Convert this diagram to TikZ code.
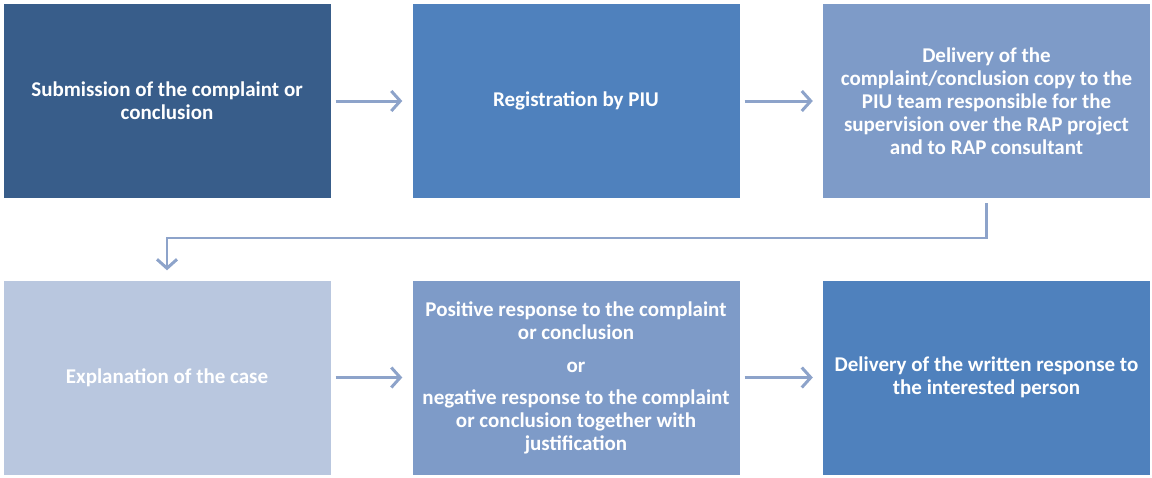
\documentclass[tikz,border=0pt]{standalone}
\usepackage{fontspec}
\setmainfont{Carlito}
\usetikzlibrary{arrows.meta}
\definecolor{boxdark}{RGB}{56,93,138}
\definecolor{boxmid}{RGB}{79,129,189}
\definecolor{boxsoft}{RGB}{126,155,200}
\definecolor{boxpale}{RGB}{185,199,223}
\definecolor{linkblue}{RGB}{141,163,202}
\tikzset{
  stage/.style={rectangle, inner sep=0pt, minimum width=327pt, minimum height=194pt,
    align=center, text=white, font=\fontsize{21}{23}\selectfont\bfseries},
  link/.style={draw=linkblue, line width=3pt,
    -{Straight Barb[length=9pt,width=20pt,line width=3pt]},
    shorten <=5pt, shorten >=10pt}
}
\begin{document}
\begin{tikzpicture}[x=1pt,y=-1pt]
\useasboundingbox (0,0) rectangle (1152,477);
% top row
\node[stage, fill=boxdark] (submit) at (167,101)
  {Submission of the complaint or\\conclusion};
\node[stage, fill=boxmid] (register) at (576,101)
  {Registration by PIU};
\node[stage, fill=boxsoft] (deliver) at (986.5,101)
  {Delivery of the\\complaint/conclusion copy to the\\PIU team responsible for the\\supervision over the RAP project\\and to RAP consultant};
% bottom row
\node[stage, fill=boxpale] (explain) at (167,377.5)
  {Explanation of the case};
\node[stage, fill=boxsoft] (respond) at (576,377.5)
  {Positive response to the complaint\\or conclusion\\[10pt]or\\[9pt]negative response to the complaint\\or conclusion together with\\justification};
\node[stage, fill=boxmid] (written) at (986.5,377.5)
  {Delivery of the written response to\\the interested person};
% connectors
\draw[link] (submit) -- (register);
\draw[link] (register) -- (deliver);
\coordinate (turnR) at (deliver.south |- 0,238);
\coordinate (turnL) at (explain.north |- 0,238);
\draw[link, line width=2.5pt] (deliver.south) -- (turnR) -- (turnL) -- (explain.north);
\draw[link] (explain) -- (respond);
\draw[link] (respond) -- (written);
\end{tikzpicture}
\end{document}
